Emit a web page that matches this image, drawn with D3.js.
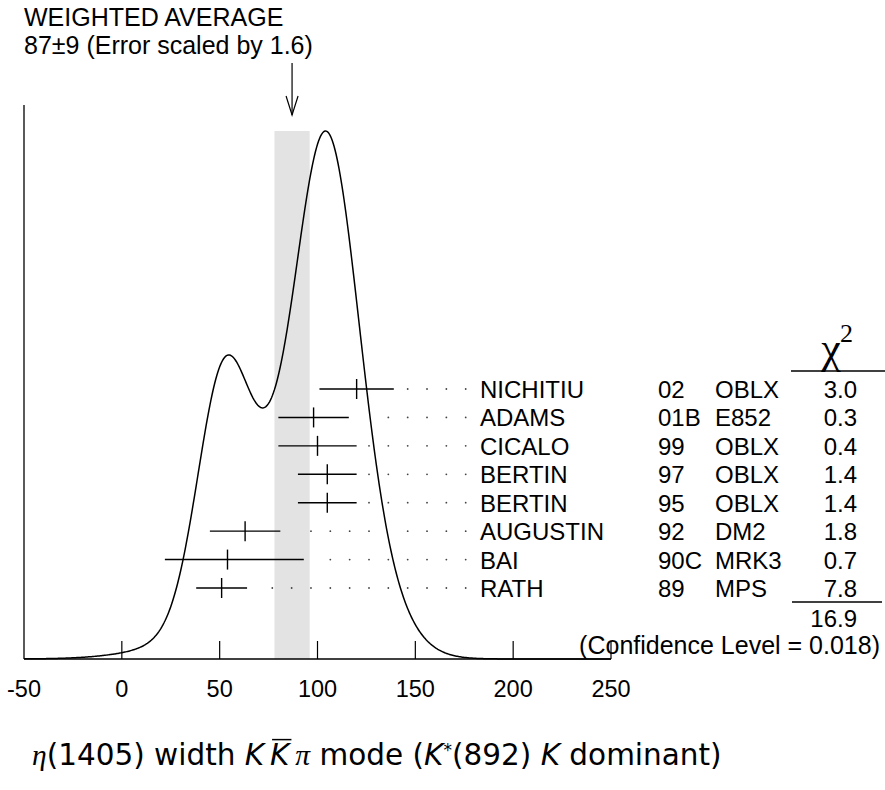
<!DOCTYPE html>
<html><head><meta charset="utf-8">
<script src="https://cdn.jsdelivr.net/npm/d3@7"></script>
<style>body{margin:0;background:#fff}svg text{font-family:"Liberation Sans",Arial,sans-serif;fill:#000}</style>
</head><body><svg id="c" width="885" height="790"></svg>
<script>
// ---- data ----
const names = ["NICHITIU","ADAMS","CICALO","BERTIN","BERTIN","AUGUSTIN","BAI","RATH"];
const years = ["02","01B","99","97","95","92","90C","89"];
const experiments = ["OBLX","E852","OBLX","OBLX","OBLX","DM2","MRK3","MPS"];
const values = [120,98,100,105,105,63,54,51];
const errLow = [19,18,20,15,15,18,32,13];
const errHigh = [19,18,20,15,15,18,39,13];
const chi2 = ["3.0","0.3","0.4","1.4","1.4","1.8","0.7","7.8"];
const chi2Total = "16.9";
const confidenceLevel = "0.018";
const average = 87, averageErr = 9, errorScale = 1.6;
const xTicks = [-50,0,50,100,150,200,250];

// ---- layout ----
const svg = d3.select("#c");
const x = d3.scaleLinear().domain([-50,250]).range([24,611]);
const axisY = 659;
const rowY = d3.scalePoint().domain(d3.range(names.length)).range([389,588]);

// ideogram (sum of Gaussians, area ~ 1/sigma)
function ideo(v){
  let s=0;
  for(let i=0;i<values.length;i++){
    const sl=errLow[i], sh=errHigh[i], sm=(sl+sh)/2;
    const sg = v<values[i]?sl:sh;
    const dv = v-values[i];
    s += (1/sm)*(1/(Math.sqrt(2*Math.PI)*sm))*Math.exp(-(dv*dv)/(2*sg*sg));
  }
  return s;
}
const grid = d3.range(-50,250.01,0.5);
const curve = grid.map(v=>[v,ideo(v)]);
const ymax = d3.max(curve,d=>d[1]);
const y = d3.scaleLinear().domain([0,ymax]).range([axisY,131]);

// shaded band
svg.append("rect").attr("x",x(average-averageErr)).attr("width",x(average+averageErr)-x(average-averageErr))
  .attr("y",y(ymax)).attr("height",axisY-y(ymax)).attr("fill","#e3e3e3");

// axes
svg.append("line").attr("x1",x(-50)).attr("x2",x(250)).attr("y1",axisY).attr("y2",axisY).attr("stroke","#000").attr("stroke-width",1.5);
svg.append("line").attr("x1",x(-50)).attr("x2",x(-50)).attr("y1",105).attr("y2",axisY).attr("stroke","#000").attr("stroke-width",1.3);
svg.selectAll(".tk").data(xTicks.slice(1)).enter().append("line")
  .attr("x1",d=>x(d)).attr("x2",d=>x(d)).attr("y1",axisY-18).attr("y2",axisY).attr("stroke","#000").attr("stroke-width",1.2);
svg.selectAll(".tl").data(xTicks).enter().append("text")
  .attr("x",d=>x(d)).attr("y",697).attr("text-anchor","middle").attr("font-size",23.5).text(d=>d);

// curve
const line = d3.line().x(d=>x(d[0])).y(d=>y(d[1])).curve(d3.curveLinear);
svg.append("path").attr("d",line(curve)).attr("fill","none").attr("stroke","#000").attr("stroke-width",1.5);

// curve crossings per row (for dot leaders)
const pts = curve.map(d=>[x(d[0]),y(d[1])]);
function crossings(yy){
  const out=[];
  for(let i=1;i<pts.length;i++){
    const a=pts[i-1],b=pts[i];
    if((a[1]-yy)*(b[1]-yy)<=0 && a[1]!==b[1]){
      out.push(a[0]+(yy-a[1])/(b[1]-a[1])*(b[0]-a[0]));
    }
  }
  return out;
}

// measurements
const nameX=480, yearX=658, expX=715, chiRight=857;
const g = svg.append("g");
names.forEach((n,i)=>{
  const yy=rowY(i);
  g.append("line").attr("x1",x(values[i]-errLow[i])).attr("x2",x(values[i]+errHigh[i]))
    .attr("y1",yy).attr("y2",yy).attr("stroke","#000").attr("stroke-width",1.4);
  g.append("line").attr("x1",x(values[i])).attr("x2",x(values[i]))
    .attr("y1",yy-10).attr("y2",yy+10).attr("stroke","#000").attr("stroke-width",1.4);
  const right = x(values[i]+errHigh[i]);
  const cr = crossings(yy);
  for(let k=0;k<20;k++){
    const cx = nameX-14.3-k*19.34;
    if(cx <= right+12) break;
    if(cr.some(c=>Math.abs(c-cx)<3)) continue;
    g.append("circle").attr("cx",cx).attr("cy",yy).attr("r",0.9).attr("fill","#444");
  }
  const ty = yy+9;
  g.append("text").attr("x",nameX).attr("y",ty).attr("font-size",24).text(n);
  g.append("text").attr("x",yearX).attr("y",ty).attr("font-size",24).text(years[i]);
  g.append("text").attr("x",expX).attr("y",ty).attr("font-size",24).text(experiments[i]);
  g.append("text").attr("x",chiRight).attr("y",ty).attr("font-size",24).attr("text-anchor","end").text(chi2[i]);
});

// chi2 header
svg.append("text").attr("x",831).attr("y",363).attr("text-anchor","middle")
  .attr("font-size",44).style("font-family","'Liberation Serif',serif").text("χ");
svg.append("text").attr("x",840).attr("y",342)
  .attr("font-size",26).style("font-family","'Liberation Serif',serif").text("2");
svg.append("line").attr("x1",791).attr("x2",885).attr("y1",371).attr("y2",371).attr("stroke","#000").attr("stroke-width",1.3);
svg.append("line").attr("x1",792).attr("x2",882).attr("y1",602).attr("y2",602).attr("stroke","#000").attr("stroke-width",1.3);
svg.append("text").attr("x",chiRight).attr("y",627).attr("text-anchor","end").attr("font-size",24).text(chi2Total);
svg.append("text").attr("x",880).attr("y",654).attr("text-anchor","end").attr("font-size",25).text("(Confidence Level = "+confidenceLevel+")");

// header
svg.append("text").attr("x",24).attr("y",26).attr("font-size",25).text("WEIGHTED AVERAGE");
svg.append("text").attr("x",24).attr("y",54).attr("font-size",25).text(average+"±"+averageErr+" (Error scaled by "+errorScale+")");
const ax = x(average);
svg.append("line").attr("x1",ax).attr("x2",ax).attr("y1",63).attr("y2",115).attr("stroke","#000").attr("stroke-width",1.2);
svg.append("path").attr("d",`M${ax-6},96 L${ax},115 L${ax+6},96`).attr("fill","none").attr("stroke","#000").attr("stroke-width",1.2);

// x title
const t = svg.append("text").attr("x",32).attr("y",765).attr("font-size",24).style("font-family","'DejaVu Sans',sans-serif");
const serifIt = "font-family:'Liberation Serif',serif;font-style:italic";
const sansIt = "font-style:italic";
const parts = [
  ["η",serifIt],["(1405) width ",""],["K",sansIt],["\u2009",""],["K",sansIt],["\u2009",""],["π",serifIt],[" mode (",""],
  ["K",sansIt],["*","sup"],["(892) ",""],["K",sansIt],[" dominant)",""]
];
parts.forEach(p=>{
  const ts=t.append("tspan").text(p[0]);
  if(p[1]==="sup"){ts.attr("dy",-9).attr("font-size",17);}
  else { if(p[1]) ts.attr("style",p[1]); }
});
t.selectAll("tspan").filter((d,i)=>i===10).attr("dy",9);
const node=t.node();
const len=node.getComputedTextLength();
const fs = 24*692/len;
t.attr("font-size",fs);
const kIdx = "η(1405) width K\u2009".length;
const s0 = node.getStartPositionOfChar(kIdx), e0 = node.getEndPositionOfChar(kIdx);
svg.append("line").attr("x1",s0.x+2).attr("x2",e0.x+2).attr("y1",765-fs*0.86).attr("y2",765-fs*0.86).attr("stroke","#000").attr("stroke-width",1.5);
</script></body></html>
